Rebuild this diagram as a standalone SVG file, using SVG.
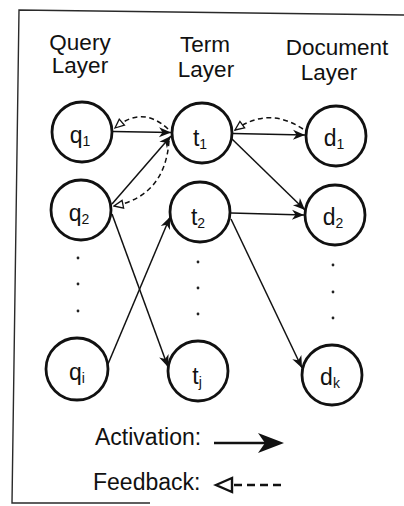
<svg xmlns="http://www.w3.org/2000/svg" width="404" height="506" viewBox="0 0 404 506">
  <style>
    .frame { fill: none; stroke: #2a2a2a; stroke-width: 1.4; }
    .node circle { fill: #fff; stroke: #111; stroke-width: 2.8; }
    .lbl { font-family: "Liberation Sans", Arial, Helvetica, sans-serif; font-size: 23px; fill: #111; text-anchor: middle; }
    .sub { font-size: 14px; }
    .head { font-family: "Liberation Sans", Arial, Helvetica, sans-serif; font-size: 22.5px; fill: #111; text-anchor: middle; }
    .legend { font-family: "Liberation Sans", Arial, Helvetica, sans-serif; font-size: 23px; fill: #111; }
    .act { fill: none; stroke: #111; stroke-width: 1.5; marker-end: url(#act-head); }
    .fb { fill: none; stroke: #111; stroke-width: 1.5; stroke-dasharray: 5 3.5; marker-end: url(#fb-head); }
    .dot { fill: #222; }
  </style>
  <defs>
    <!-- barbed filled head for activation links -->
    <marker id="act-head" viewBox="-13 -6 14 12" refX="0" refY="0" markerWidth="14" markerHeight="12" markerUnits="userSpaceOnUse" orient="auto">
      <path d="M0,0 L-12,-5 L-8.5,0 L-12,5 Z" fill="#111" stroke="none"/>
    </marker>
    <!-- open triangle head for feedback links -->
    <marker id="fb-head" viewBox="-11 -6 12 12" refX="0" refY="0" markerWidth="12" markerHeight="12" markerUnits="userSpaceOnUse" orient="auto">
      <path d="M0,0 L-9,-4 L-9,4 Z" fill="#fff" stroke="#111" stroke-width="1.3" stroke-dasharray="none"/>
    </marker>
  </defs>

  <!-- outer frame (open at the right and lower right) -->
  <path class="frame" d="M404,15 L19,10 L12,503 L150,503"/>

  <!-- column headings -->
  <g id="headings">
    <text class="head" x="80" y="50">Query</text>
    <text class="head" x="80" y="73">Layer</text>
    <text class="head" x="205" y="52">Term</text>
    <text class="head" x="206" y="77">Layer</text>
    <text class="head" x="337" y="55">Document</text>
    <text class="head" x="329" y="80">Layer</text>
  </g>

  <!-- links -->
  <g id="connectors">
    <path class="act" d="M113,131.5 L171,132.5"/>
    <path class="act" d="M112,204 L171,136"/>
    <path class="act" d="M233,133.5 L305,135"/>
    <path class="act" d="M232,139 L305,210"/>
    <path class="act" d="M231,213 L304,215"/>
    <path class="act" d="M112,214 L168,367"/>
    <path class="act" d="M108,364 L170,217"/>
    <path class="act" d="M231,219 L302,368"/>
    <path class="fb" d="M168,129 Q142,105 115,128"/>
    <path class="fb" d="M169,141 Q165,196 114,206"/>
    <path class="fb" d="M303,129 Q268,106 235,130"/>
  </g>

  <!-- query layer -->
  <g id="q1" class="node"><circle cx="82" cy="132" r="30"/><text class="lbl" x="80" y="143">q<tspan class="sub" dy="3">1</tspan></text></g>
  <g id="q2" class="node"><circle cx="81" cy="210" r="30"/><text class="lbl" x="79" y="221">q<tspan class="sub" dy="3">2</tspan></text></g>
  <g id="qi" class="node"><circle cx="77" cy="369" r="31"/><text class="lbl" x="77" y="380">q<tspan class="sub" dy="3">i</tspan></text></g>

  <!-- term layer -->
  <g id="t1" class="node"><circle cx="202" cy="133" r="30"/><text class="lbl" x="200" y="146">t<tspan class="sub" dy="3">1</tspan></text></g>
  <g id="t2" class="node"><circle cx="200" cy="212" r="30"/><text class="lbl" x="198" y="225">t<tspan class="sub" dy="3">2</tspan></text></g>
  <g id="tj" class="node"><circle cx="198" cy="371" r="30"/><text class="lbl" x="197" y="384">t<tspan class="sub" dy="3">j</tspan></text></g>

  <!-- document layer -->
  <g id="d1" class="node"><circle cx="336" cy="136" r="30"/><text class="lbl" x="334" y="146">d<tspan class="sub" dy="3">1</tspan></text></g>
  <g id="d2" class="node"><circle cx="335" cy="215" r="30"/><text class="lbl" x="333" y="225">d<tspan class="sub" dy="3">2</tspan></text></g>
  <g id="dk" class="node"><circle cx="332" cy="375" r="30"/><text class="lbl" x="330" y="385">d<tspan class="sub" dy="3">k</tspan></text></g>

  <!-- ellipsis dots between node rows -->
  <g id="ellipses">
    <circle class="dot" cx="78" cy="258" r="1.4"/>
    <circle class="dot" cx="78" cy="284" r="1.4"/>
    <circle class="dot" cx="78" cy="311" r="1.4"/>
    <circle class="dot" cx="198" cy="262" r="1.4"/>
    <circle class="dot" cx="198" cy="288" r="1.4"/>
    <circle class="dot" cx="198" cy="314" r="1.4"/>
    <circle class="dot" cx="333" cy="265" r="1.4"/>
    <circle class="dot" cx="333" cy="292" r="1.4"/>
    <circle class="dot" cx="333" cy="318" r="1.4"/>
  </g>

  <!-- key -->
  <g id="legend">
    <text class="legend" x="95" y="445">Activation:</text>
    <line x1="214" y1="443" x2="266" y2="443" stroke="#111" stroke-width="2.6"/>
    <path d="M284,443 L258,433 L265,443 L258,453 Z" fill="#111"/>
    <text class="legend" x="93" y="490">Feedback:</text>
    <path d="M216,485 L232,478 L232,492 Z" fill="#fff" stroke="#111" stroke-width="2.4" stroke-linejoin="miter"/>
    <line x1="234" y1="485" x2="283" y2="485" stroke="#111" stroke-width="2.4" stroke-dasharray="8 5"/>
  </g>
</svg>
